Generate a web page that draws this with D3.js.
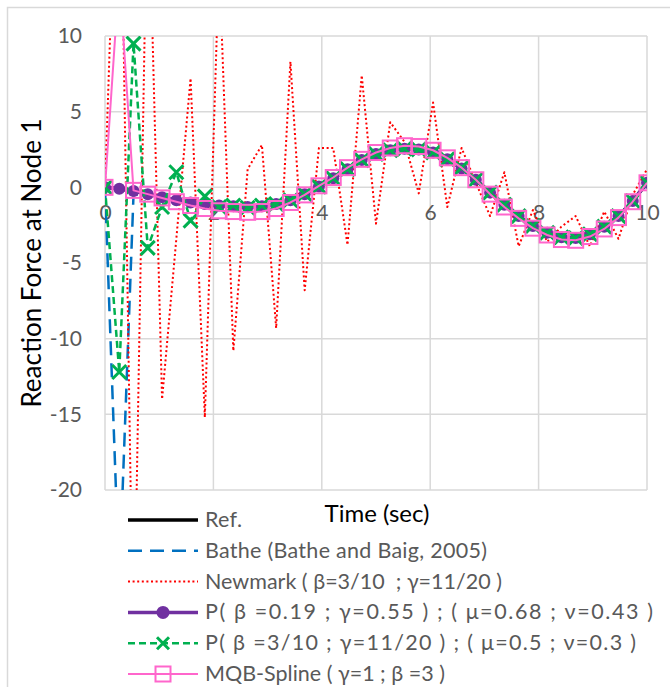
<!DOCTYPE html>
<meta charset="utf-8">
<script src="https://d3js.org/d3.v7.min.js"></script>
<html>
<style>
body { margin: 0; background: #fff; }
text { font-family: Lato, "Open Sans", sans-serif; }
</style>
<body>
<svg id="chart" width="670" height="687"></svg>
<script>

// time steps (sec)
var time = [0, 0.263, 0.526, 0.789, 1.053, 1.316, 1.579, 1.842, 2.105, 2.368,
  2.632, 2.895, 3.158, 3.421, 3.684, 3.947, 4.211, 4.474, 4.737, 5.0,
  5.263, 5.526, 5.789, 6.053, 6.316, 6.579, 6.842, 7.105, 7.368, 7.632,
  7.895, 8.158, 8.421, 8.684, 8.947, 9.211, 9.474, 9.737, 10];

// reaction force series
var refVals = [0, -0.1, -0.25, -0.45, -0.65, -0.85, -1.0, -1.1, -1.2, -1.25,
  -1.3, -1.25, -1.1, -0.85, -0.45, 0.05, 0.6, 1.2, 1.8, 2.2,
  2.45, 2.55, 2.5, 2.3, 1.85, 1.25, 0.5, -0.35, -1.15, -1.9,
  -2.55, -3.0, -3.3, -3.35, -3.1, -2.6, -1.9, -0.9, 0.3];
var batheVals = [0, -26, -0.5, -0.45, -0.65, -0.85, -1.0, -1.1, -1.2, -1.25,
  -1.3, -1.25, -1.1, -0.85, -0.45, 0.05, 0.6, 1.2, 1.8, 2.2,
  2.45, 2.55, 2.5, 2.3, 1.85, 1.25, 0.5, -0.35, -1.15, -1.9,
  -2.55, -3.0, -3.3, -3.35, -3.1, -2.6, -1.9, -0.9, 0.3];
var newmarkVals = [0, 28, -32, 22, -14, -3.4, 7.2, -15.2, 15, -10.8,
  1.2, 2.8, -9.3, 8.3, -6.8, 2.6, 2.6, -3.8, 7.4, -2.4,
  4.3, 3.0, -0.4, 5.6, -1.3, 2.6, 0.3, -1.9, 1.0, -3.9,
  -1.5, -3.6, -2.6, -1.9, -3.9, -1.6, -3.4, -0.5, 1.2];
var p1Vals = [0, -0.1, -0.25, -0.45, -0.65, -0.85, -1.0, -1.1, -1.2, -1.25,
  -1.3, -1.25, -1.1, -0.85, -0.45, 0.05, 0.6, 1.2, 1.8, 2.2,
  2.45, 2.55, 2.5, 2.3, 1.85, 1.25, 0.5, -0.35, -1.15, -1.9,
  -2.55, -3.0, -3.3, -3.35, -3.1, -2.6, -1.9, -0.9, 0.3];
var p2Vals = [0, -12.2, 9.5, -4.0, -1.3, 1.0, -2.2, -0.6, -1.3, -1.2,
  -1.35, -1.2, -1.1, -0.85, -0.45, 0.05, 0.6, 1.2, 1.8, 2.2,
  2.45, 2.55, 2.5, 2.3, 1.85, 1.3, 0.5, -0.35, -1.15, -1.9,
  -2.55, -3.0, -3.3, -3.35, -3.1, -2.6, -1.9, -0.9, 0.3];
var mqbVals = [0, 14, -0.2, -0.45, -0.7, -0.95, -1.2, -1.4, -1.55, -1.6,
  -1.65, -1.6, -1.4, -1.0, -0.5, 0.1, 0.65, 1.3, 1.85, 2.3,
  2.6, 2.75, 2.7, 2.45, 1.95, 1.3, 0.5, -0.45, -1.3, -2.05,
  -2.7, -3.15, -3.45, -3.5, -3.25, -2.75, -2.0, -0.95, 0.3];

var xTicks = [0, 2, 4, 6, 8, 10];
var yTicks = [-20, -15, -10, -5, 0, 5, 10];

var legendNames = ["Ref.", "Bathe (Bathe and Baig, 2005)", "Newmark ( \u03b2=3/10  ; \u03b3=11/20 )",
  "P( \u03b2 =0.19 ; \u03b3=0.55 ) ; ( \u03bc=0.68 ; \u03bd=0.43 )",
  "P( \u03b2 =3/10 ; \u03b3=11/20 ) ; ( \u03bc=0.5 ; \u03bd=0.3 )",
  "MQB-Spline ( \u03b3=1 ; \u03b2 =3 )"];
// rendered widths of the legend labels in the picture (px)
var legendWidths = [37, 282, 297, 448, 431, 240];

var series = [
  {vals: refVals,     color: "#000000", width: 3.5, dash: null,  marker: null},
  {vals: batheVals,   color: "#0070C0", width: 2.5, dash: "14,8", marker: null},
  {vals: newmarkVals, color: "#FF0000", width: 2,   dash: "2,2.6", marker: null},
  {vals: p1Vals,      color: "#7030A0", width: 3.5, dash: null,  marker: "circle"},
  {vals: p2Vals,      color: "#00B050", width: 2.5, dash: "7,4", marker: "x"},
  {vals: mqbVals,     color: "#FF66CC", width: 2,   dash: null,  marker: "square"}
];

var svg = d3.select("#chart");

// chart border
svg.append("rect").attr("x", 7.5).attr("y", 7.5).attr("width", 720).attr("height", 720)
  .attr("fill", "none").attr("stroke", "#D9D9D9").attr("stroke-width", 1.5);

var x = d3.scaleLinear().domain([0, 10]).range([105, 647]);
var y = d3.scaleLinear().domain([-20, 10]).range([490, 36]);

// gridlines
svg.append("g").selectAll("line").data(yTicks).enter().append("line")
  .attr("x1", x(0)).attr("x2", x(10))
  .attr("y1", function(d) { return y(d); }).attr("y2", function(d) { return y(d); })
  .attr("stroke", "#D9D9D9").attr("stroke-width", 1.5);
svg.append("g").selectAll("line").data(xTicks).enter().append("line")
  .attr("y1", y(10)).attr("y2", y(-20))
  .attr("x1", function(d) { return x(d); }).attr("x2", function(d) { return x(d); })
  .attr("stroke", "#D9D9D9").attr("stroke-width", 1.5);

// axes labels
var fmt = function(d) { return String(d); };
var yAxis = svg.append("g").attr("transform", "translate(" + x(0) + ",0)")
  .call(d3.axisLeft(y).tickValues(yTicks).tickFormat(fmt).tickSize(0).tickPadding(23));
var xAxis = svg.append("g").attr("transform", "translate(0," + y(0) + ")")
  .call(d3.axisBottom(x).tickValues(xTicks).tickFormat(fmt).tickSize(0).tickPadding(18));
[yAxis, xAxis].forEach(function(a) {
  a.select(".domain").remove();
  a.selectAll("text").attr("fill", "#595959").style("font-size", "21px")
    .style("font-family", "Lato, sans-serif");
});

// clip to plot area
svg.append("clipPath").attr("id", "plotclip").append("rect")
  .attr("x", x(0)).attr("y", y(10)).attr("width", x(10) - x(0)).attr("height", y(-20) - y(10));

var plot = svg.append("g").attr("clip-path", "url(#plotclip)");
var line = d3.line().x(function(d) { return x(d[0]); }).y(function(d) { return y(d[1]); });

function drawMarker(g, type, color, cx, cy, big) {
  if (type === "circle") {
    g.append("circle").attr("cx", cx).attr("cy", cy).attr("r", big ? 6.5 : 6).attr("fill", color);
  } else if (type === "x") {
    var s = big ? 6 : 7;
    g.append("path").attr("d", "M" + (cx - s) + "," + (cy - s) + "L" + (cx + s) + "," + (cy + s)
      + "M" + (cx - s) + "," + (cy + s) + "L" + (cx + s) + "," + (cy - s))
      .attr("stroke", color).attr("stroke-width", 3).attr("fill", "none");
  } else if (type === "square") {
    g.append("rect").attr("x", cx - 7.5).attr("y", cy - 7.5).attr("width", 15).attr("height", 15)
      .attr("fill", "none").attr("stroke", color).attr("stroke-width", 2);
  }
}

series.forEach(function(s) {
  var pts = time.map(function(t, i) { return [t, s.vals[i]]; });
  plot.append("path").datum(pts).attr("d", line)
    .attr("fill", "none").attr("stroke", s.color).attr("stroke-width", s.width)
    .attr("stroke-dasharray", s.dash).attr("stroke-linejoin", "round");
  if (s.marker) {
    var mg = plot.append("g");
    pts.forEach(function(p) { drawMarker(mg, s.marker, s.color, x(p[0]), y(p[1]), false); });
  }
});

// axis titles
svg.append("text").attr("x", 377).attr("y", 522).attr("text-anchor", "middle")
  .style("font-size", "24px").attr("fill", "#000").text("Time (sec)");
svg.append("text").attr("transform", "translate(41,263) rotate(-90)").attr("text-anchor", "middle")
  .style("font-size", "26px").attr("fill", "#000").text("Reaction Force at Node 1");

// legend
var leg = svg.append("g");
series.forEach(function(s, i) {
  var ly = 520 + i * 30.8;
  leg.append("line").attr("x1", 128).attr("x2", 198).attr("y1", ly).attr("y2", ly)
    .attr("stroke", s.color).attr("stroke-width", s.width).attr("stroke-dasharray", s.dash);
  if (s.marker) drawMarker(leg, s.marker, s.color, 163, ly, true);
  leg.append("text").attr("x", 205).attr("y", ly + 7).style("font-size", "21.5px")
    .style("white-space", "pre").attr("fill", "#595959")
    .attr("textLength", legendWidths[i]).attr("lengthAdjust", "spacing")
    .text(legendNames[i]);
});

</script>
</body>
</html>
